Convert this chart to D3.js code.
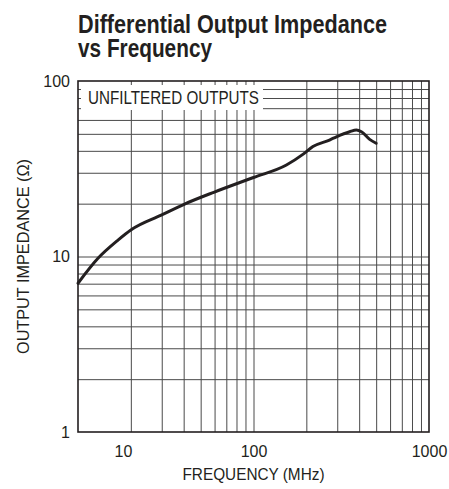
<!DOCTYPE html>
<html>
<head>
<meta charset="utf-8">
<script src="https://cdn.jsdelivr.net/npm/d3@7"></script>
<style>
  body { margin: 0; background: #fff; }
  svg { display: block; font-family: "Liberation Sans", Arial, sans-serif; }
  .grid line { stroke: #4a4a4a; stroke-width: 1; }
  .grid path { display: none; }
  .ticklab path, .ticklab line { display: none; }
  .ticklab text { font-size: 16px; fill: #231f20; font-family: "Liberation Sans", Arial, sans-serif; }
</style>
</head>
<body>
<div id="graph"></div>
<script>
// curve: frequency (MHz) vs output impedance (ohm)
const FREQ = [10, 13, 16.9, 20.1, 29.8, 40.5, 59.9, 100, 154, 192, 218, 271, 297, 353, 386, 412, 459, 500];
const IMPEDANCE = [7.04, 9.77, 12.4, 14.2, 17.2, 19.9, 23.3, 28.2, 33.2, 38.3, 42.3, 46.1, 48.1, 51.4, 52.6, 51.4, 46.5, 44.2];

const X_TICKS = [10, 100, 1000];
const Y_TICKS = [1, 10, 100];
const X_GRID = [20, 30, 40, 50, 60, 70, 80, 90, 100, 200, 300, 400, 500, 600, 700, 800, 900];
const Y_GRID = [2, 3, 4, 5, 6, 7, 8, 9, 10, 20, 30, 40, 50, 60, 70, 80, 90];

const TITLE = ["Differential Output Impedance", "vs Frequency"];
const X_TITLE = "FREQUENCY (MHz)";
const Y_TITLE = "OUTPUT IMPEDANCE (\u03A9)";
const NOTE = "UNFILTERED OUTPUTS";

const W = 449, H = 489;
const margin = {top: 81, right: 20, bottom: 57, left: 78};
const width = W - margin.left - margin.right;
const height = H - margin.top - margin.bottom;
const ink = "#231f20";

var x = d3.scaleLog().domain([10, 1000]).range([0, width]);
var y = d3.scaleLog().domain([1, 100]).range([height, 0]);

var line = d3.line()
    .x((d) => x(d.f))
    .y((d) => y(d.z))
    .curve(d3.curveMonotoneX);

// condensed look: no narrow face installed, so squeeze to the measured width
const squeeze = (sel, len) => sel.attr("textLength", len).attr("lengthAdjust", "spacingAndGlyphs");

const draw_graph = () => {
  var root = d3.select("#graph")
      .append("svg")
          .attr("width", W)
          .attr("height", H);

  // title
  root.selectAll("text.title")
      .data(TITLE)
      .join("text")
        .attr("class", "title")
        .attr("x", margin.left)
        .attr("y", (d, i) => 33 + i * 24)
        .style("font-size", "25px")
        .style("font-weight", "bold")
        .style("fill", ink)
        .attr("textLength", (d, i) => i === 0 ? 309 : 134)
        .attr("lengthAdjust", "spacingAndGlyphs")
        .text((d) => d);

  var svg = root.append("g")
      .attr("transform", "translate(" + margin.left + "," + margin.top + ")");

  // grid
  svg.append("g")
      .attr("class", "grid")
      .attr("transform", "translate(0," + height + ")")
      .call(d3.axisBottom(x).tickValues(X_GRID).tickSize(-height).tickFormat(""));

  svg.append("g")
      .attr("class", "grid")
      .call(d3.axisLeft(y).tickValues(Y_GRID).tickSize(-width).tickFormat(""));

  // note box hides the grid behind it
  var note = svg.append("g").attr("transform", "translate(3,4)");
  note.append("rect")
      .attr("width", 182)
      .attr("height", 25)
      .style("fill", "#fff");
  note.append("text")
      .attr("x", 7)
      .attr("y", 19)
      .style("font-size", "18px")
      .style("fill", ink)
      .call(squeeze, 171)
      .text(NOTE);

  // frame
  svg.append("rect")
      .attr("width", width)
      .attr("height", height)
      .style("fill", "none")
      .style("stroke", ink)
      .style("stroke-width", 1.6);

  // tick labels
  var xl = svg.append("g")
      .attr("class", "ticklab")
      .attr("transform", "translate(0," + height + ")")
      .call(d3.axisBottom(x).tickValues(X_TICKS).tickSize(0).tickPadding(14).tickFormat(d3.format("d")));
  // the "10" label is nudged right, clear of the corner
  xl.selectAll("text").filter((d) => d === 10).attr("dx", 45);

  svg.append("g")
      .attr("class", "ticklab")
      .call(d3.axisLeft(y).tickValues(Y_TICKS).tickSize(0).tickPadding(8).tickFormat(d3.format("d")));

  // axis titles
  svg.append("text")
      .attr("x", width / 2)
      .attr("y", height + 48)
      .style("text-anchor", "middle")
      .style("font-size", "17px")
      .style("fill", ink)
      .call(squeeze, 142)
      .text(X_TITLE);

  svg.append("text")
      .attr("transform", "rotate(-90)")
      .attr("x", -height / 2)
      .attr("y", -49)
      .style("text-anchor", "middle")
      .style("font-size", "17px")
      .style("fill", ink)
      .call(squeeze, 195)
      .text(Y_TITLE);

  // curve
  const data = FREQ.map((f, i) => ({f: f, z: IMPEDANCE[i]}));
  svg.append("path")
      .attr("d", line(data))
      .style("fill", "none")
      .style("stroke", ink)
      .style("stroke-width", 3)
      .style("stroke-linejoin", "round")
      .style("stroke-linecap", "round");
}

window.onload = () => {
  draw_graph();
}
</script>
</body>
</html>
